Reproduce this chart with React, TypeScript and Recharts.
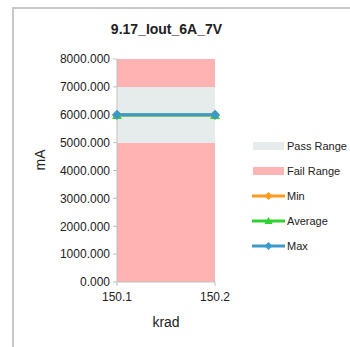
import { ComposedChart, Area, Line, XAxis, YAxis } from "recharts";

const KRAD = [150.1, 150.2];
const FAIL_LOW = [5000, 5000];
const PASS_BAND = [2000, 2000];
const FAIL_HIGH = [1000, 1000];
const MIN_MA = [5990, 5990];
const AVG_MA = [5995, 5995];
const MAX_MA = [6000, 6000];
const Y_TICKS = [0, 1000, 2000, 3000, 4000, 5000, 6000, 7000, 8000];

const PASS_COLOR = "#e6ecec";
const FAIL_COLOR = "#ffb3b3";
const MIN_COLOR = "#ff9a1f";
const AVG_COLOR = "#2ed12e";
const MAX_COLOR = "#3c9ac8";
const FONT = "'Liberation Sans', Arial, sans-serif";

const data = KRAD.map((k, i) => ({
  krad: k,
  failLow: FAIL_LOW[i],
  pass: PASS_BAND[i],
  failHigh: FAIL_HIGH[i],
  min: MIN_MA[i],
  avg: AVG_MA[i],
  max: MAX_MA[i],
}));

const Diamond = (props: any) => {
  const { cx, cy, fill } = props;
  if (cx == null || cy == null) return null;
  return (
    <path
      d={`M${cx},${cy - 5}L${cx + 5},${cy}L${cx},${cy + 5}L${cx - 5},${cy}Z`}
      fill={fill}
    />
  );
};

const Triangle = (props: any) => {
  const { cx, cy, fill } = props;
  if (cx == null || cy == null) return null;
  return (
    <path
      d={`M${cx},${cy - 4}L${cx + 5},${cy + 4}L${cx - 5},${cy + 4}Z`}
      fill={fill}
    />
  );
};

const LEGEND_ITEMS = [
  { name: "Pass Range", color: PASS_COLOR, kind: "box" },
  { name: "Fail Range", color: FAIL_COLOR, kind: "box" },
  { name: "Min", color: MIN_COLOR, kind: "diamond" },
  { name: "Average", color: AVG_COLOR, kind: "tri" },
  { name: "Max", color: MAX_COLOR, kind: "diamond" },
];

function LegendBox() {
  return (
    <div style={{ fontFamily: FONT, fontSize: 11, color: "#222" }}>
      {LEGEND_ITEMS.map((it) => (
        <div
          key={it.name}
          style={{ display: "flex", alignItems: "center", height: 25 }}
        >
          <svg width={33} height={10} style={{ marginRight: 2 }}>
            {it.kind === "box" ? (
              <rect x={1} y={1} width={31} height={8} fill={it.color} />
            ) : (
              <>
                <line x1={0} y1={5} x2={33} y2={5} stroke={it.color} strokeWidth={3} />
                {it.kind === "tri" ? (
                  <path d="M16.5,1L20.5,8L12.5,8Z" fill={it.color} />
                ) : (
                  <path d="M16.5,1L20.5,5L16.5,9L12.5,5Z" fill={it.color} />
                )}
              </>
            )}
          </svg>
          <span>{it.name}</span>
        </div>
      ))}
    </div>
  );
}

export default function App() {
  return (
    <div
      style={{
        position: "fixed",
        left: 0,
        top: 0,
        width: 350,
        height: 347,
        background: "#fff",
        overflow: "hidden",
      }}
    >
      <div
        style={{
          position: "absolute",
          left: 12,
          top: 7,
          width: 400,
          height: 400,
          border: "2px solid #c8c8c8",
        }}
      />
      <div
        style={{
          position: "absolute",
          left: 0,
          width: 333,
          top: 21,
          textAlign: "center",
          fontFamily: FONT,
          fontWeight: "bold",
          fontSize: 14,
          color: "#222",
        }}
      >
        9.17_Iout_6A_7V
      </div>
      <div style={{ position: "absolute", left: 0, top: 0 }}>
        <ComposedChart
          width={350}
          height={347}
          data={data}
          margin={{ top: 59, right: 135, bottom: 0, left: 0 }}
        >
          <XAxis
            dataKey="krad"
            type="number"
            domain={[150.1, 150.2]}
            ticks={KRAD}
            interval={0}
            tickFormatter={(v) => v.toFixed(1)}
            stroke="#bfbfbf"
            tickSize={4}
            tickMargin={6}
            tick={{ fill: "#222", fontSize: 12, fontFamily: FONT }}
            height={65}
            label={{
              value: "krad",
              position: "insideBottom",
              offset: 20,
              fill: "#222",
              fontSize: 14,
              fontFamily: FONT,
            }}
          />
          <YAxis
            type="number"
            domain={[0, 8000]}
            ticks={Y_TICKS}
            interval={0}
            tickFormatter={(v) => v.toFixed(3)}
            stroke="#bfbfbf"
            tickSize={4}
            tickMargin={3}
            width={117}
            tick={{ fill: "#222", fontSize: 12, fontFamily: FONT }}
            label={{
              value: "mA",
              angle: -90,
              position: "insideLeft",
              offset: 40,
              fill: "#222",
              fontSize: 14,
              fontFamily: FONT,
            }}
          />
          <Area
            type="linear"
            dataKey="failLow"
            stackId="r"
            stroke="none"
            fill={FAIL_COLOR}
            fillOpacity={1}
            isAnimationActive={false}
          />
          <Area
            type="linear"
            dataKey="pass"
            stackId="r"
            stroke="none"
            fill={PASS_COLOR}
            fillOpacity={1}
            isAnimationActive={false}
          />
          <Area
            type="linear"
            dataKey="failHigh"
            stackId="r"
            stroke="none"
            fill={FAIL_COLOR}
            fillOpacity={1}
            isAnimationActive={false}
          />
          <Line
            dataKey="min"
            stroke={MIN_COLOR}
            strokeWidth={3}
            dot={<Diamond fill={MIN_COLOR} />}
            isAnimationActive={false}
          />
          <Line
            dataKey="avg"
            stroke={AVG_COLOR}
            strokeWidth={3}
            dot={<Triangle fill={AVG_COLOR} />}
            isAnimationActive={false}
          />
          <Line
            dataKey="max"
            stroke={MAX_COLOR}
            strokeWidth={3}
            dot={<Diamond fill={MAX_COLOR} />}
            isAnimationActive={false}
          />
        </ComposedChart>
      </div>
      <div style={{ position: "absolute", left: 252, top: 133, width: 100 }}>
        <LegendBox />
      </div>
    </div>
  );
}
